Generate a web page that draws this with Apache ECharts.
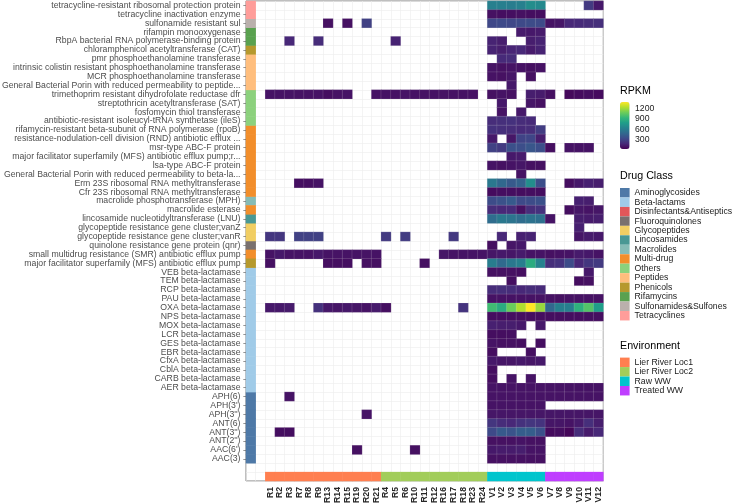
<!DOCTYPE html>
<html>
<head>
<meta charset="utf-8">
<style>html,body{margin:0;padding:0;background:#fff}#main{width:734px;height:503px}</style>
<script src="https://cdn.jsdelivr.net/npm/echarts@6/dist/echarts.min.js"></script>
</head>
<body>
<div id="main"></div>
<script>
var riverSamples = ['R1','R2','R3','R7','R8','R9','R13','R14','R15','R19','R20','R21','R4','R5','R6','R10','R11','R12','R16','R17','R18','R23','R24'];
var wwSamples = ['V1','V2','V3','V4','V5','V6','V7','V8','V9','V10','V11','V12'];

var geneLabels = [
  'tetracycline-resistant ribosomal protection protein','tetracycline inactivation enzyme','sulfonamide resistant sul',
  'rifampin monooxygenase','RbpA bacterial RNA polymerase-binding protein','chloramphenicol acetyltransferase (CAT)',
  'pmr phosphoethanolamine transferase','intrinsic colistin resistant phosphoethanolamine transferase','MCR phosphoethanolamine transferase',
  'General Bacterial Porin with reduced permeability to peptide...','trimethoprim resistant dihydrofolate reductase dfr',
  'streptothricin acetyltransferase (SAT)','fosfomycin thiol transferase','antibiotic-resistant isoleucyl-tRNA synthetase (ileS)',
  'rifamycin-resistant beta-subunit of RNA polymerase (rpoB)','resistance-nodulation-cell division (RND) antibiotic efflux ...',
  'msr-type ABC-F protein','major facilitator superfamily (MFS) antibiotic efflux pump;r...','lsa-type ABC-F protein',
  'General Bacterial Porin with reduced permeability to beta-la...','Erm 23S ribosomal RNA methyltransferase',
  'Cfr 23S ribosomal RNA methyltransferase','macrolide phosphotransferase (MPH)','macrolide esterase',
  'lincosamide nucleotidyltransferase (LNU)','glycopeptide resistance gene cluster;vanZ','glycopeptide resistance gene cluster;vanR',
  'quinolone resistance gene protein (qnr)','small multidrug resistance (SMR) antibiotic efflux pump',
  'major facilitator superfamily (MFS) antibiotic efflux pump','VEB beta-lactamase','TEM beta-lactamase','RCP beta-lactamase',
  'PAU beta-lactamase','OXA beta-lactamase','NPS beta-lactamase','MOX beta-lactamase','LCR beta-lactamase','GES beta-lactamase',
  'EBR beta-lactamase','CfxA beta-lactamase','CblA beta-lactamase','CARB beta-lactamase','AER beta-lactamase',
  'APH(6)',"APH(3')","APH(3'')",'ANT(6)',"ANT(3'')","ANT(2'')","AAC(6')",'AAC(3)'
];

var drugClasses = ['Aminoglycosides','Beta-lactams','Disinfectants&Antiseptics','Fluoroquinolones','Glycopeptides','Lincosamides','Macrolides','Multi-drug','Others','Peptides','Phenicols','Rifamycins','Sulfonamides&Sulfones','Tetracyclines'];
var classColors = ['#4E79A7','#A0CBE8','#E15759','#79706E','#F1CE63','#499894','#86BCB6','#F28E2B','#8CD17D','#FFBE7D','#B6992D','#59A14F','#BAB0AC','#FF9D9A'];
// index into drugClasses for each gene row, top to bottom
var geneClass = [13,13,12,11,11,10,9,9,9,9,8,8,8,8,7,7,7,7,7,7,7,7,6,7,5,4,4,3,7,10,1,1,1,1,1,1,1,1,1,1,1,1,1,1,0,0,0,0,0,0,0,0];

var environments = ['Lier River Loc1','Lier River Loc2','Raw WW','Treated WW'];
var envColors = ['#FF7F50','#A2CD5A','#00C5CD','#BF3EFF'];
var envSamples = [riverSamples.slice(0,12), riverSamples.slice(12), wwSamples.slice(0,6), wwSamples.slice(6)];

// river samples are sparse: [gene row, {sample: RPKM}]
var riverValues = [
  [2,{R13:80,R15:80,R20:280}],
  [4,{R3:170,R9:190,R5:150}],
  [10,{R1:90,R2:90,R3:90,R7:85,R8:85,R9:90,R13:70,R14:85,R15:90,R21:85,R4:85,R5:85,R6:90,R10:85,R11:85,R12:85,R16:85,R17:85,R18:85,R23:85}],
  [20,{R7:75,R8:75,R9:90}],
  [26,{R1:230,R2:230,R7:280,R8:280,R9:280,R4:250,R6:260,R17:240}],
  [28,{R1:90,R2:110,R3:90,R7:90,R8:90,R9:110,R13:90,R14:90,R15:90,R19:90,R20:90,R21:90,R16:100,R17:90,R18:90,R23:90,R24:90}],
  [29,{R1:80,R13:75,R14:75,R15:75,R20:80,R21:80,R11:75}],
  [34,{R1:110,R2:110,R3:120,R9:210,R13:110,R14:100,R15:110,R19:100,R20:90,R21:120,R4:75,R18:220}],
  [44,{R3:90}],
  [46,{R20:90}],
  [48,{R2:70,R3:70}],
  [50,{R19:80,R10:80}]
];

// V1..V12 for every gene row, 0 = not detected
var wwValues = [
  [610,600,590,610,680,660,0,0,0,0,250,110],
  [80,70,75,80,70,70,0,0,0,0,0,0],
  [310,320,310,320,330,320,90,100,170,180,190,200],
  [0,0,0,120,110,120,0,0,0,0,0,0],
  [150,130,0,0,130,150,0,0,0,0,0,0],
  [150,130,160,170,120,150,0,0,0,0,0,0],
  [0,180,190,0,0,0,0,0,0,0,0,0],
  [90,80,90,85,75,85,0,0,0,0,0,0],
  [85,80,100,0,80,0,0,0,0,0,0,0],
  [0,0,110,0,0,0,0,0,0,0,0,0],
  [80,90,80,0,130,120,75,0,50,60,70,60],
  [0,110,0,0,100,80,0,0,0,0,0,0],
  [0,90,0,110,0,0,0,0,0,0,0,0],
  [190,200,210,190,180,0,0,0,0,0,0,0],
  [210,200,190,180,190,260,0,0,0,0,0,0],
  [110,0,100,290,300,130,0,0,0,0,0,0],
  [280,250,350,340,380,340,70,0,90,90,90,0],
  [0,0,110,120,0,0,0,0,0,0,0,0],
  [90,80,90,100,80,80,0,0,0,0,0,0],
  [0,0,0,85,0,0,0,0,0,0,0,0],
  [560,470,400,440,680,340,0,0,70,110,140,130],
  [60,70,70,65,70,65,0,0,0,0,0,0],
  [330,360,400,320,330,350,0,0,0,140,130,0],
  [190,170,180,80,190,210,0,0,70,100,90,100],
  [500,560,540,500,530,510,90,0,0,130,120,130],
  [0,0,0,0,0,0,0,0,0,140,0,0],
  [0,170,0,140,150,0,0,0,0,100,120,110],
  [70,0,100,110,0,0,0,0,0,0,0,0],
  [100,110,100,120,90,90,80,85,90,120,110,90],
  [590,480,560,600,850,620,200,220,330,170,230,250],
  [80,80,80,70,0,0,0,0,0,0,110,0],
  [0,0,75,0,0,0,0,0,0,70,80,0],
  [190,200,190,170,190,180,0,0,0,0,0,0],
  [85,85,85,85,85,85,85,80,85,85,85,85],
  [950,850,1060,1210,1370,1160,470,600,600,880,1000,770],
  [70,70,70,70,70,70,70,70,70,70,70,70],
  [140,130,130,110,0,110,0,0,0,0,0,0],
  [70,70,75,0,0,0,0,0,0,0,0,0],
  [90,80,80,70,0,70,0,0,0,0,0,0],
  [70,0,0,0,75,0,0,0,0,0,0,0],
  [110,100,100,110,100,110,0,0,0,0,0,0],
  [70,0,0,0,0,0,0,0,0,0,0,0],
  [70,0,90,0,90,0,0,0,0,0,0,0],
  [90,90,90,90,90,90,90,90,90,90,90,90],
  [90,90,90,90,90,90,90,90,90,90,90,90],
  [90,90,90,90,90,90,0,0,0,0,0,0],
  [100,100,100,100,100,100,100,100,100,100,100,100],
  [230,190,170,210,230,220,100,100,90,120,200,130],
  [320,400,370,420,420,350,60,70,40,190,120,170],
  [80,80,80,90,80,80,0,0,0,0,0,0],
  [110,120,120,130,90,90,0,0,0,0,0,0],
  [80,80,80,80,80,80,0,0,0,0,0,0]
];

var rpkmTicks = [300,600,900,1200];
var viridis = ['#440154','#482878','#3E4A89','#31688E','#26828E','#1F9E89','#35B779','#6DCD59','#B4DE2C','#FDE725'];

var xCategories = ['class','gap'].concat(riverSamples, wwSamples);
var yCategories = geneLabels.concat(['gap','env']);

var cells = [];
riverValues.forEach(function (r) {
  Object.keys(r[1]).forEach(function (s) { cells.push([s, geneLabels[r[0]], r[1][s]]); });
});
wwValues.forEach(function (row, i) {
  row.forEach(function (v, j) { if (v > 0) cells.push([wwSamples[j], geneLabels[i], v]); });
});

var series = [{
  name: 'RPKM', type: 'heatmap', data: cells,
  itemStyle: { borderColor: 'rgba(225,225,225,0.3)', borderWidth: 0.5 },
  emphasis: { disabled: true }
}];
// annotation tiles carry no RPKM, the 1 only makes the heatmap draw them
drugClasses.forEach(function (c, k) {
  series.push({
    name: c, type: 'heatmap',
    data: geneLabels.filter(function (g, i) { return geneClass[i] === k; }).map(function (g) { return ['class', g, 1]; }),
    itemStyle: { color: classColors[k] }, emphasis: { disabled: true }
  });
});
environments.forEach(function (e, k) {
  series.push({
    name: e, type: 'heatmap',
    data: envSamples[k].map(function (s) { return [s, 'env', 1]; }),
    itemStyle: { color: envColors[k] }, emphasis: { disabled: true }
  });
});

var titleStyle = { fontSize: 10.7, fontWeight: 'normal', color: '#000', fontFamily: 'Liberation Sans' };
var legendBase = {
  orient: 'vertical', left: 620, padding: 0, itemWidth: 9.6, itemHeight: 9.46, itemGap: 0, icon: 'rect',
  selectedMode: false, textStyle: { fontSize: 8.7, color: '#1a1a1a', lineHeight: 9.46, fontFamily: 'Liberation Sans' }
};

var chart = echarts.init(document.getElementById('main'), null, { renderer: 'canvas' });
chart.setOption({
  animation: false,
  textStyle: { fontFamily: 'Liberation Sans' },
  title: [
    { text: 'RPKM', left: 620, top: 86, padding: 0, textStyle: titleStyle },
    { text: 'Drug Class', left: 620, top: 171, padding: 0, textStyle: titleStyle },
    { text: 'Environment', left: 620, top: 341, padding: 0, textStyle: titleStyle }
  ],
  grid: [
    { left: 246, top: 1, width: 357.3, height: 480, outerBoundsMode: 'none', show: true, backgroundColor: '#fff', borderColor: '#7f7f7f', borderWidth: 1 },
    { left: 630, top: 102.5, width: 1, height: 47, outerBoundsMode: 'none' }
  ],
  xAxis: [{
    type: 'category', data: xCategories, gridIndex: 0,
    axisLine: { show: false }, axisTick: { show: false },
    splitLine: { show: true, interval: 0, lineStyle: { color: '#ececec', width: 0.6 } },
    axisLabel: {
      rotate: 90, fontSize: 8.7, fontWeight: 'bold', color: '#262626', margin: 6,
      interval: function (i) { return i > 1; }
    }
  }, { type: 'value', gridIndex: 1, show: false }],
  yAxis: [{
    type: 'category', data: yCategories, inverse: true, gridIndex: 0,
    axisLine: { show: false },
    axisTick: { show: true, length: 2.7, alignWithLabel: true, lineStyle: { color: '#4d4d4d', width: 0.6 },
      interval: function (i) { return i < geneLabels.length; } },
    splitLine: { show: true, interval: 0, lineStyle: { color: '#ececec', width: 0.6 } },
    axisLabel: {
      fontSize: 8.7, color: '#4d4d4d', margin: 5.5,
      interval: function (i) { return i < geneLabels.length; }
    }
  }, {
    type: 'value', gridIndex: 1, min: 20, max: 1370, position: 'right',
    axisLine: { show: false }, axisTick: { show: false }, splitLine: { show: false },
    axisLabel: { customValues: rpkmTicks, fontSize: 8.7, color: '#1a1a1a', margin: 4, formatter: function (v) { return String(v); } }
  }],
  visualMap: {
    type: 'continuous', seriesIndex: 0, dimension: 2, min: 20, max: 1370, calculable: false,
    left: 620, top: 102, padding: 0, itemWidth: 9.6, itemHeight: 47, text: null, showLabel: false,
    inRange: { color: viridis }
  },
  legend: [
    Object.assign({}, legendBase, { top: 188, data: drugClasses }),
    Object.assign({}, legendBase, { top: 357.6, data: environments })
  ],
  series: series
});
</script>
</body>
</html>
